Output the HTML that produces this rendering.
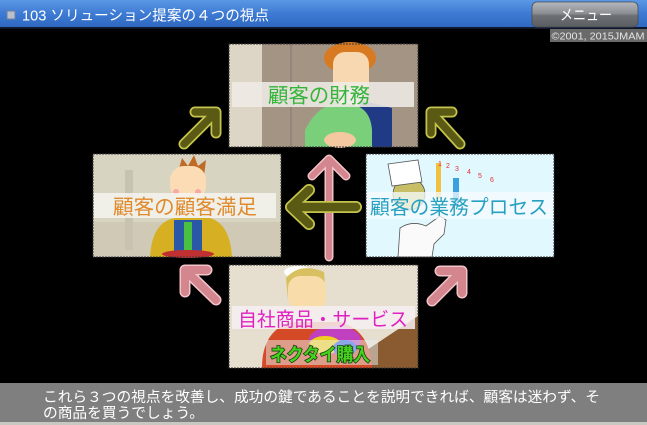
<!DOCTYPE html>
<html><head><meta charset="utf-8">
<style>
html,body{margin:0;padding:0;background:#000;}
body{width:647px;height:425px;overflow:hidden;}
svg{display:block;}
text{font-family:"Liberation Sans","Noto Sans CJK JP",sans-serif;}
</style></head>
<body>
<svg width="647" height="425" viewBox="0 0 647 425" xmlns="http://www.w3.org/2000/svg">
<defs>
<linearGradient id="hdr" x1="0" y1="0" x2="0" y2="1">
<stop offset="0" stop-color="#5a97e4"/><stop offset="0.5" stop-color="#3d7bd4"/><stop offset="1" stop-color="#2f68c0"/>
</linearGradient>
<linearGradient id="btn" x1="0" y1="0" x2="0" y2="1">
<stop offset="0" stop-color="#b4b8bc"/><stop offset="0.45" stop-color="#8c9094"/><stop offset="0.55" stop-color="#6c7074"/><stop offset="1" stop-color="#5a5e62"/>
</linearGradient>
</defs>
<rect x="0" y="0" width="647" height="425" fill="#000"/>
<!-- header -->
<rect x="0" y="0" width="647" height="27" fill="url(#hdr)"/>
<rect x="0" y="27" width="647" height="2" fill="#101830"/>
<rect x="7" y="11" width="8" height="8" fill="#b8c0cc" stroke="#7080a0" stroke-width="1"/>
<text x="22" y="20.5" font-size="14.5" fill="#fff" textLength="247" lengthAdjust="spacingAndGlyphs">103 ソリューション提案の４つの視点</text>
<rect x="532" y="2" width="106" height="25" rx="5" fill="url(#btn)" stroke="#4a4e52" stroke-width="0.8"/>
<text x="586" y="20" font-size="15" fill="#fff" text-anchor="middle" textLength="52" lengthAdjust="spacingAndGlyphs">メニュー</text>
<rect x="550" y="29" width="97" height="13" fill="#6a6a6a"/>
<text x="598" y="39.5" font-size="10.5" fill="#e4e4e4" text-anchor="middle" textLength="93" lengthAdjust="spacingAndGlyphs">©2001, 2015JMAM</text>

<!-- TOP BOX -->
<g>
<rect x="229" y="44" width="189" height="103" fill="#a49484"/>
<rect x="229" y="44" width="33" height="103" fill="#ddd5c5"/>
<rect x="290" y="44" width="2" height="103" fill="#94847a"/>
<ellipse cx="350" cy="58" rx="26" ry="16" fill="#d87a22"/>
<rect x="333" y="52" width="36" height="44" rx="12" fill="#f8d8b0"/>
<rect x="340" y="88" width="24" height="22" fill="#f4f0ec"/>
<path d="M360 100 L392 108 L392 147 L355 147 Z" fill="#203a86"/>
<path d="M305 130 Q320 100 345 104 Q370 104 372 130 L372 147 L305 147 Z" fill="#7ad07a"/>
<ellipse cx="340" cy="140" rx="16" ry="8" fill="#f4c8a0"/>
</g>
<rect x="229" y="44" width="189" height="103" fill="none" stroke="#3a3a3a" stroke-width="1" stroke-dasharray="2,1"/>
<rect x="232" y="82" width="182" height="25" fill="#efebe6" opacity="0.88"/>
<text x="319" y="102.5" font-size="20.5" fill="#34b43a" text-anchor="middle" textLength="102" lengthAdjust="spacingAndGlyphs">顧客の財務</text>

<!-- LEFT BOX -->
<g>
<rect x="93" y="154" width="188" height="103" fill="#d8d4c2"/>
<rect x="93" y="222" width="188" height="35" fill="#cfc9b6"/>
<rect x="125" y="170" width="8" height="80" fill="#c8c2b0"/>
<path d="M178 172 L182 158 L188 166 L194 155 L198 166 L206 160 L204 176 Z" fill="#c06a28"/>
<rect x="170" y="166" width="36" height="34" rx="14" fill="#fbdcb4"/>
<circle cx="176" cy="192" r="3" fill="#f4a8a8"/>
<circle cx="198" cy="192" r="3" fill="#f4a8a8"/>
<path d="M150 257 Q152 222 175 218 L210 218 Q230 224 232 257 Z" fill="#d6b022"/>
<rect x="174" y="220" width="28" height="37" fill="#2a58a6"/>
<rect x="184" y="222" width="8" height="30" fill="#48c040"/>
<ellipse cx="188" cy="254" rx="26" ry="4" fill="#c03030"/>
</g>
<rect x="93" y="154" width="188" height="103" fill="none" stroke="#3a3a3a" stroke-width="1" stroke-dasharray="2,1"/>
<rect x="94" y="193" width="182" height="25" fill="#f6f4ee" opacity="0.85"/>
<text x="185" y="214" font-size="20.5" fill="#e08a2e" text-anchor="middle" textLength="144" lengthAdjust="spacingAndGlyphs">顧客の顧客満足</text>

<!-- RIGHT BOX -->
<g>
<rect x="366" y="154" width="188" height="103" fill="#e2f8ff"/>
<ellipse cx="409" cy="194" rx="16" ry="16" fill="#c8be66" stroke="#555" stroke-width="0.8"/>
<path d="M388 164 L418 160 L422 182 L392 186 Z" fill="#fff" stroke="#555" stroke-width="0.8"/>
<path d="M398 257 L400 228 Q412 220 426 226 L440 216 L446 220 L444 234 L434 244 L432 257 Z" fill="#fafafa" stroke="#555" stroke-width="0.8"/>
<rect x="436" y="163" width="5" height="36" fill="#f0c040"/>
<rect x="453" y="178" width="6" height="28" fill="#3aa0e0"/>
<text x="438" y="166" font-size="7" fill="#e03030">1</text>
<text x="446" y="168" font-size="7" fill="#e03030">2</text>
<text x="455" y="171" font-size="7" fill="#e03030">3</text>
<text x="467" y="174" font-size="7" fill="#e03030">4</text>
<text x="478" y="178" font-size="7" fill="#e03030">5</text>
<text x="490" y="182" font-size="7" fill="#e03030">6</text>
</g>
<rect x="366" y="154" width="188" height="103" fill="none" stroke="#3a3a3a" stroke-width="1" stroke-dasharray="2,1"/>
<rect x="367" y="192" width="186" height="27" fill="#f6fcff" opacity="0.75"/>
<text x="459" y="214" font-size="20" fill="#28a0c0" text-anchor="middle" textLength="178" lengthAdjust="spacingAndGlyphs">顧客の業務プロセス</text>

<!-- BOTTOM BOX -->
<g>
<rect x="229" y="265" width="189" height="103" fill="#e6dece"/>
<path d="M418 316 L340 368 L418 368 Z" fill="#8a5a30"/>
<ellipse cx="298" cy="272" rx="14" ry="6" fill="#fff"/>
<path d="M286 278 Q300 262 324 272 L326 300 L288 300 Z" fill="#d8c060"/>
<rect x="288" y="276" width="38" height="34" rx="12" fill="#f8dcaa"/>
<path d="M262 368 Q262 330 292 322 L340 322 Q370 330 372 368 Z" fill="#d44a26"/>
<ellipse cx="335" cy="340" rx="26" ry="14" fill="#c040c0"/>
<ellipse cx="325" cy="345" rx="16" ry="9" fill="#f0d020"/>
<ellipse cx="345" cy="348" rx="12" ry="8" fill="#3060e0"/>
</g>
<rect x="229" y="265" width="189" height="103" fill="none" stroke="#3a3a3a" stroke-width="1" stroke-dasharray="2,1"/>
<rect x="232" y="306" width="183" height="23" fill="#f6f0f2" opacity="0.85"/>
<text x="323" y="326" font-size="19.5" fill="#e020c0" text-anchor="middle" textLength="170" lengthAdjust="spacingAndGlyphs">自社商品・サービス</text>
<rect x="266" y="340" width="112" height="25" fill="#e8eef0" opacity="0.5"/>
<text x="320" y="361" font-size="18" font-weight="bold" fill="#44d41e" stroke="#1c3a10" stroke-width="1.6" paint-order="stroke" text-anchor="middle" textLength="100" lengthAdjust="spacingAndGlyphs">ネクタイ購入</text>

<!-- ARROWS -->
<g fill="none" stroke-linecap="round" stroke-linejoin="round">
<path d="M329,257 L329,160 M312,176 L329,159 L346,176" stroke="#f2c4ca" stroke-width="9"/>
<path d="M329,257 L329,160 M312,176 L329,159 L346,176" stroke="#d4868e" stroke-width="6"/>
<path d="M356,207 L291,207 M309,190 L291,207 L309,224" stroke="#c4c44c" stroke-width="12"/>
<path d="M356,207 L291,207 M309,190 L291,207 L309,224" stroke="#5a5a14" stroke-width="8.5"/>
<path d="M184,144 L216,112 M195,112 L216,112 L216,133" stroke="#c4c44c" stroke-width="11"/>
<path d="M184,144 L216,112 M195,112 L216,112 L216,133" stroke="#5a5a14" stroke-width="7.5"/>
<path d="M460,144 L431,112 M452,112 L431,112 L431,133" stroke="#c4c44c" stroke-width="11"/>
<path d="M460,144 L431,112 M452,112 L431,112 L431,133" stroke="#5a5a14" stroke-width="7.5"/>
<path d="M216,300 L185,270 M207,270 L185,270 L185,292" stroke="#f2c4ca" stroke-width="11"/>
<path d="M216,300 L185,270 M207,270 L185,270 L185,292" stroke="#d4868e" stroke-width="8"/>
<path d="M432,301 L462,271 M440,271 L462,271 L462,293" stroke="#f2c4ca" stroke-width="11"/>
<path d="M432,301 L462,271 M440,271 L462,271 L462,293" stroke="#d4868e" stroke-width="8"/>
</g>

<!-- bottom caption -->
<rect x="0" y="383" width="647" height="40" fill="#7f7f7f"/>
<rect x="0" y="422" width="647" height="3" fill="#c8c8c0"/>
<text x="43" y="402" font-size="14.5" fill="#fff" textLength="557" lengthAdjust="spacingAndGlyphs">これら３つの視点を改善し、成功の鍵であることを説明できれば、顧客は迷わず、そ</text>
<text x="43" y="418" font-size="14.5" fill="#fff" textLength="161" lengthAdjust="spacingAndGlyphs">の商品を買うでしょう。</text>
</svg>
</body></html>
